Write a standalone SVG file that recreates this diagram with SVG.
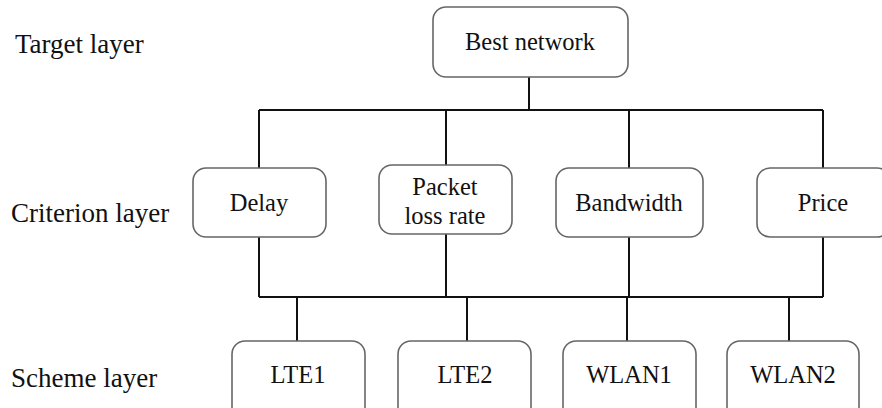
<svg xmlns="http://www.w3.org/2000/svg" width="882" height="408" viewBox="0 0 882 408">
<style>
.box{fill:#fff;stroke:#666;stroke-width:1.6}
.t{font-family:"Liberation Serif","Times New Roman",serif;font-size:24.5px;fill:#111;text-anchor:middle}
.lay{font-family:"Liberation Serif","Times New Roman",serif;font-size:27px;fill:#111}
.ln{fill:none;stroke:#111;stroke-width:2}
</style>
<rect width="882" height="408" fill="#fff"/>
<g id="labels">
<text class="lay" x="15" y="53">Target layer</text>
<text class="lay" x="11" y="222">Criterion layer</text>
<text class="lay" x="11" y="387">Scheme layer</text>
</g>
<g id="connectors">
<path class="ln" d="M529 77V110M259 110H823M259 110V168M446 110V166M629 110V168M823 110V168"/>
<path class="ln" d="M259 237V297M446 234V297M629 237V297M823 237V297M259 297H823"/>
<path class="ln" d="M297 297V341M467 297V341M627 297V341M789 297V341"/>
</g>
<g id="best"><rect class="box" x="433" y="7" width="195" height="70" rx="13"/><text class="t" x="530" y="50">Best network</text></g>
<g id="delay"><rect class="box" x="193" y="168" width="133" height="69" rx="13"/><text class="t" x="259" y="211">Delay</text></g>
<g id="packet"><rect class="box" x="379" y="165" width="133" height="69" rx="13"/><text class="t" x="445" y="195">Packet</text><text class="t" x="445" y="224">loss rate</text></g>
<g id="bandwidth"><rect class="box" x="556" y="168" width="147" height="69" rx="13"/><text class="t" x="629" y="211">Bandwidth</text></g>
<g id="price"><rect class="box" x="757" y="168" width="133" height="69" rx="13"/><text class="t" x="823" y="211">Price</text></g>
<g id="lte1"><rect class="box" x="232" y="341" width="133" height="80" rx="13"/><text class="t" x="298" y="383">LTE1</text></g>
<g id="lte2"><rect class="box" x="398" y="341" width="133" height="80" rx="13"/><text class="t" x="465" y="383">LTE2</text></g>
<g id="wlan1"><rect class="box" x="563" y="341" width="133" height="80" rx="13"/><text class="t" x="629" y="383">WLAN1</text></g>
<g id="wlan2"><rect class="box" x="727" y="341" width="132" height="80" rx="13"/><text class="t" x="793" y="383">WLAN2</text></g>
</svg>
